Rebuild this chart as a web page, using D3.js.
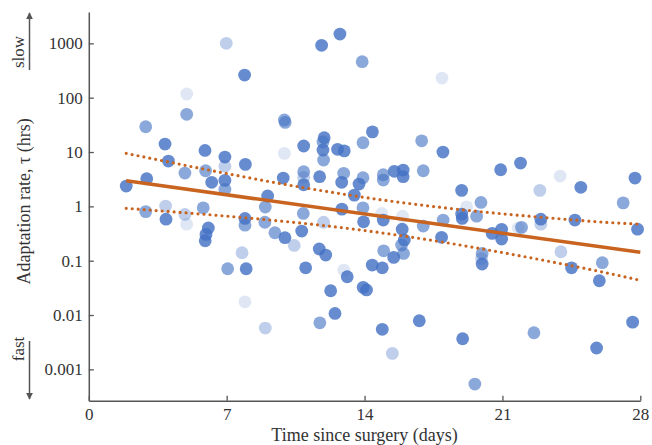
<!DOCTYPE html>
<html>
<head>
<meta charset="utf-8">
<script src="https://cdn.jsdelivr.net/npm/d3@7"></script>
<style>
  html, body { margin: 0; padding: 0; background: #fff; }
  svg { display: block; }
  text { font-family: "Liberation Serif", "DejaVu Serif", serif; fill: #333; }
</style>
</head>
<body>
<svg id="chart" width="652" height="445"></svg>
<script>
// ---- data ----
const days = [6.98,11.82,12.75,13.88,7.91,4.97,4.97,2.89,9.93,9.97,3.87,5.9,6.91,6.91,4.04,4.88,5.93,6.24,6.91,6.91,7.95,2.94,1.9,9.08,8.96,9.93,9.87,10.91,10.91,10.91,10.91,11.72,11.95,11.89,11.89,11.92,12.63,12.97,12.94,12.84,13.72,13.92,13.92,13.48,14.4,12.85,13.92,17.93,16.9,17.98,14.95,14.95,15.51,15.96,15.96,16.98,18.93,19.91,19.18,20.91,21.92,22.9,23.93,24.98,27.13,27.73,13.95,14.87,14.95,15.93,15.91,16.02,15.88,15.98,14.97,15.48,14.39,14.9,13.93,14.1,16.98,17.99,17.91,18.93,18.96,19.69,19.97,19.94,19.97,20.48,20.96,20.96,21.97,21.8,22.95,22.95,24.68,23.97,24.51,26.07,25.92,27.86,14.9,16.78,15.41,18.98,19.6,22.6,25.78,27.61,2.89,3.9,3.92,4.88,4.97,5.81,6.07,5.95,5.91,7.78,7.05,7.99,7.93,8.96,7.93,7.93,8.94,9.45,9.96,10.43,10.81,10.89,11.92,11.7,12.03,11.01,13.12,12.95,12.28,12.5,11.73];
const tau = [1000,919,1480,459,261,117,49.4,29.2,38.8,35,14.0,10.7,8.08,5.45,6.82,4.10,4.52,2.77,3.01,2.06,5.93,3.22,2.36,1.55,0.97,9.45,3.32,12.9,4.33,3.42,2.50,3.51,18.3,15.3,10.9,7.11,11.2,10.5,4.05,2.77,2.57,14.8,3.36,1.61,23.5,0.89,0.94,230,16.1,9.98,3.82,3.05,4.41,4.66,3.51,4.52,1.97,1.18,0.98,4.72,6.27,1.97,3.61,2.24,1.16,3.32,0.52,0.74,0.56,0.66,0.38,0.24,0.194,0.136,0.152,0.115,0.083,0.074,0.0323,0.029,0.434,0.56,0.269,0.72,0.60,0.66,0.136,0.11,0.087,0.318,0.378,0.25,0.41,0.40,0.58,0.47,0.56,0.146,0.074,0.092,0.0427,0.38,0.00545,0.00784,0.00197,0.00366,0.000536,0.00472,0.00247,0.0074,0.80,1.01,0.58,0.71,0.47,0.94,0.40,0.305,0.233,0.14,0.071,0.071,0.0175,0.00575,0.60,0.45,0.51,0.327,0.265,0.191,0.351,0.74,0.51,0.164,0.127,0.074,0.0506,0.067,0.028,0.0107,0.0072];
// fit quality class of each point: 1 = best ... 4 = poorest
const fitClass = [3,1,1,2,1,4,2,2,2,2,1,1,1,3,1,2,2,1,1,2,1,1,1,1,2,4,1,1,2,3,1,1,1,2,1,2,1,1,2,1,1,2,2,1,1,1,2,4,2,1,2,2,1,1,1,2,1,2,4,1,1,3,4,1,2,1,1,4,1,4,1,1,2,2,2,1,1,1,1,1,2,2,1,1,1,2,2,3,1,1,1,1,2,4,1,3,1,3,1,2,1,1,1,1,3,1,2,2,1,1,2,3,1,3,4,2,1,1,1,3,2,1,4,3,1,2,2,2,1,3,1,2,3,1,1,1,1,4,1,1,2];

// regression line and 95% confidence band
const fitDays = [1.9, 28];
const fitTau = [2.95, 0.1426];
const bandDays = [1.9, 4, 6, 8, 10, 12, 14, 16, 18, 20, 22, 24, 26, 28];
const bandUpper = [9.45, 6.62, 4.73, 3.43, 2.52, 1.90, 1.46, 1.16, 0.946, 0.791, 0.676, 0.586, 0.515, 0.47];
const bandLower = [0.92, 0.807, 0.708, 0.615, 0.525, 0.440, 0.359, 0.284, 0.219, 0.164, 0.121, 0.0877, 0.0628, 0.0435];

const xTicks = [0, 7, 14, 21, 28];
const yTicks = [0.001, 0.01, 0.1, 1, 10, 100, 1000];
const yTickLabels = ["0.001", "0.01", "0.1", "1", "10", "100", "1000"];

// ---- drawing ----
const svg = d3.select("#chart");
const x = d3.scaleLinear().domain([0, 28]).range([88.8, 640.3]);
const y = d3.scaleLog().domain([0.000265, 3775]).range([400.7, 12]);
const alpha = d3.scaleOrdinal().domain([1, 2, 3, 4]).range([0.82, 0.62, 0.34, 0.17]);

const axisColor = "#555";
const fontSize = 17;

// points
svg.append("g").selectAll("circle")
  .data(days.map((d, i) => ({d, t: tau[i], c: fitClass[i]})))
  .join("circle")
  .attr("cx", p => x(p.d))
  .attr("cy", p => y(p.t))
  .attr("r", 6.4)
  .attr("fill", "#4472C4")
  .attr("fill-opacity", p => alpha(p.c));

// band
const lineGen = d3.line().x(p => x(p[0])).y(p => y(p[1])).curve(d3.curveMonotoneX);
const orange = "#C8641F";
[bandUpper, bandLower].forEach(arr => {
  svg.append("path")
    .attr("d", lineGen(bandDays.map((d, i) => [d, arr[i]])))
    .attr("fill", "none")
    .attr("stroke", orange)
    .attr("stroke-width", 3.2)
    .attr("stroke-linecap", "round")
    .attr("stroke-dasharray", "0,6");
});
// fit line
svg.append("path")
  .attr("d", d3.line().x(p => x(p[0])).y(p => y(p[1]))(fitDays.map((d, i) => [d, fitTau[i]])))
  .attr("fill", "none")
  .attr("stroke", orange)
  .attr("stroke-width", 3.5);

// axes
const xAxis = svg.append("g")
  .attr("transform", `translate(0,${y.range()[0]})`)
  .call(d3.axisBottom(x).tickValues(xTicks).tickSizeInner(-5).tickSizeOuter(0).tickPadding(7).tickFormat(d3.format("d")));
const yAxis = svg.append("g")
  .attr("transform", `translate(${x.range()[0]},0)`)
  .call(d3.axisLeft(y).tickValues(yTicks).tickSizeInner(-5).tickSizeOuter(0).tickPadding(6)
    .tickFormat((d, i) => yTickLabels[i]));
[xAxis, yAxis].forEach(g => {
  g.select(".domain").attr("stroke", axisColor).attr("stroke-width", 1.5);
  g.selectAll(".tick line").attr("stroke", axisColor).attr("stroke-width", 1.3);
  g.selectAll(".tick text").attr("font-size", fontSize).attr("font-family", "Liberation Serif, serif").attr("fill", "#333");
});

// axis titles
svg.append("text")
  .attr("x", (x.range()[0] + x.range()[1]) / 2)
  .attr("y", 441)
  .attr("text-anchor", "middle")
  .attr("font-size", 18)
  .text("Time since surgery (days)");
svg.append("text")
  .attr("transform", `translate(30,${y(1) - 5}) rotate(-90)`)
  .attr("text-anchor", "middle")
  .attr("font-size", 18)
  .text("Adaptation rate, τ (hrs)");

// slow / fast arrows
const defs = svg.append("defs");
defs.append("marker").attr("id", "arr").attr("viewBox", "0 0 10 10")
  .attr("refX", 9).attr("refY", 5).attr("markerWidth", 7).attr("markerHeight", 8)
  .attr("markerUnits", "userSpaceOnUse").attr("orient", "auto")
  .append("path").attr("d", "M0,0 L10,5 L0,10 Z").attr("fill", axisColor);
svg.append("line").attr("x1", 29.5).attr("x2", 29.5).attr("y1", 70).attr("y2", 13)
  .attr("stroke", axisColor).attr("stroke-width", 1.5).attr("marker-end", "url(#arr)");
svg.append("line").attr("x1", 29.5).attr("x2", 29.5).attr("y1", 341).attr("y2", 399)
  .attr("stroke", axisColor).attr("stroke-width", 1.5).attr("marker-end", "url(#arr)");
svg.append("text")
  .attr("transform", `translate(24,52) rotate(-90)`)
  .attr("text-anchor", "middle").attr("font-size", 17).text("slow");
svg.append("text")
  .attr("transform", `translate(24,349) rotate(-90)`)
  .attr("text-anchor", "middle").attr("font-size", 17).text("fast");
</script>
</body>
</html>
